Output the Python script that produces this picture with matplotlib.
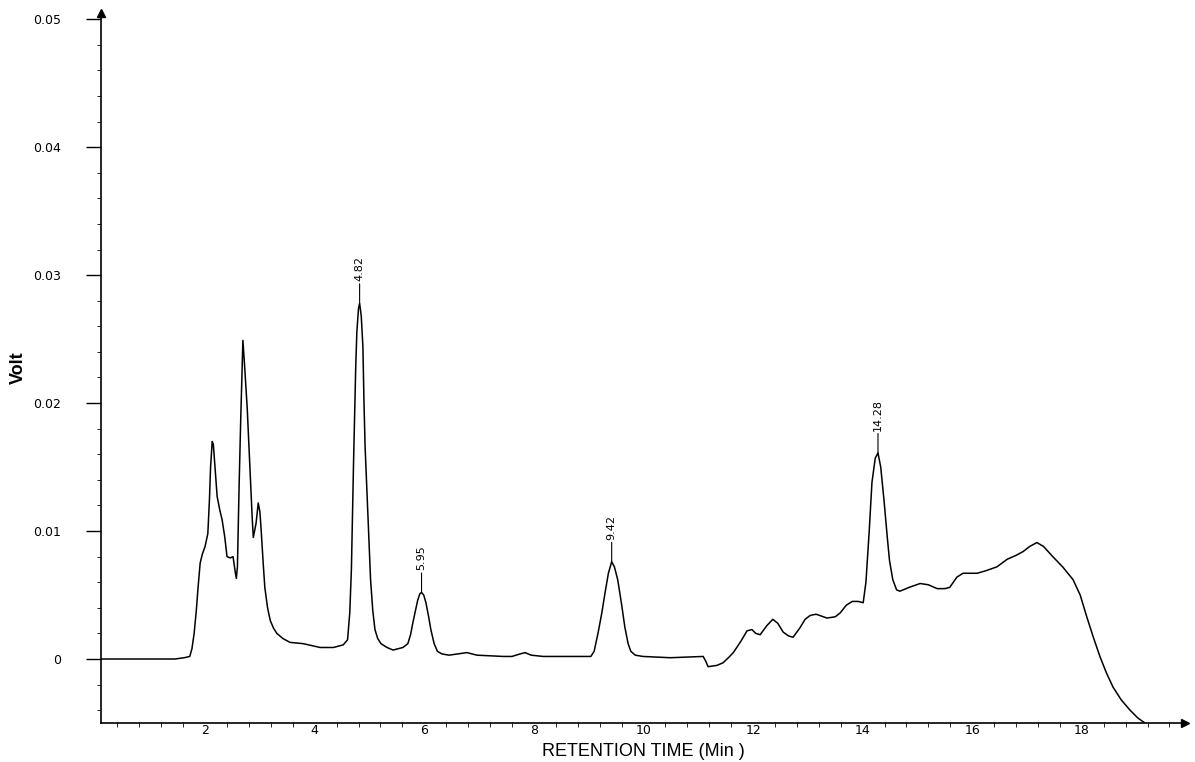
import numpy as np
import matplotlib.pyplot as plt
from matplotlib.ticker import MultipleLocator

# chromatogram trace as (retention time in min, detector signal in V)
trace = [
    (0.10, 0.0), (1.00, 0.0), (1.45, 0.0), (1.62, 0.0001), (1.72, 0.0002),
    (1.76, 0.0008), (1.80, 0.0020), (1.84, 0.0038), (1.87, 0.0055),
    (1.91, 0.0075), (1.95, 0.0082), (2.00, 0.0088), (2.05, 0.0098),
    (2.08, 0.0125), (2.10, 0.0150), (2.13, 0.0170), (2.15, 0.0168),
    (2.18, 0.0150), (2.22, 0.0127), (2.27, 0.0116), (2.31, 0.0109),
    (2.36, 0.0095), (2.40, 0.0080), (2.46, 0.0079), (2.51, 0.0080),
    (2.55, 0.0068), (2.57, 0.0063), (2.59, 0.0072), (2.62, 0.0134),
    (2.65, 0.0187), (2.69, 0.0249), (2.72, 0.0230), (2.77, 0.0195),
    (2.82, 0.0148), (2.86, 0.0110), (2.88, 0.0095), (2.93, 0.0106),
    (2.97, 0.0122), (3.00, 0.0115), (3.02, 0.0103), (3.06, 0.0075),
    (3.09, 0.0056), (3.14, 0.0040), (3.19, 0.0030), (3.25, 0.0024),
    (3.31, 0.0020), (3.42, 0.0016), (3.55, 0.0013), (3.79, 0.0012),
    (4.10, 0.0009), (4.34, 0.0009), (4.52, 0.0011), (4.60, 0.0015),
    (4.64, 0.0036), (4.67, 0.0070), (4.69, 0.0114), (4.71, 0.0155),
    (4.73, 0.0192), (4.75, 0.0230), (4.77, 0.0256), (4.80, 0.0274),
    (4.82, 0.0278), (4.85, 0.0268), (4.88, 0.0244), (4.90, 0.0200),
    (4.92, 0.0166), (4.95, 0.0135), (4.97, 0.0114), (5.00, 0.0085),
    (5.02, 0.0062), (5.06, 0.0038), (5.10, 0.0023), (5.15, 0.0016),
    (5.21, 0.0012), (5.32, 0.0009), (5.43, 0.0007), (5.61, 0.0009),
    (5.70, 0.0012), (5.75, 0.0019), (5.79, 0.0028), (5.84, 0.0038),
    (5.88, 0.0046), (5.92, 0.0051), (5.95, 0.0052), (5.99, 0.0050),
    (6.03, 0.0044), (6.08, 0.0033), (6.12, 0.0023), (6.18, 0.0012),
    (6.24, 0.0006), (6.32, 0.0004), (6.45, 0.0003), (6.78, 0.0005),
    (6.96, 0.0003), (7.44, 0.0002), (7.60, 0.0002), (7.75, 0.0004),
    (7.84, 0.0005), (7.95, 0.0003), (8.17, 0.0002), (8.66, 0.0002),
    (9.04, 0.0002), (9.10, 0.0006), (9.17, 0.0020), (9.24, 0.0036),
    (9.30, 0.0052), (9.36, 0.0067), (9.42, 0.0076), (9.47, 0.0072),
    (9.53, 0.0062), (9.60, 0.0043), (9.66, 0.0025), (9.72, 0.0012),
    (9.77, 0.0006), (9.85, 0.0003), (9.99, 0.0002), (10.49, 0.0001),
    (11.09, 0.0002), (11.14, -0.0002), (11.18, -0.0006), (11.34, -0.0005),
    (11.45, -0.0003), (11.55, 0.0001), (11.64, 0.0005), (11.78, 0.0014),
    (11.89, 0.0022), (11.98, 0.0023), (12.05, 0.0020), (12.13, 0.0019),
    (12.25, 0.0026), (12.36, 0.0031), (12.45, 0.0028), (12.55, 0.0021),
    (12.65, 0.0018), (12.73, 0.0017), (12.85, 0.0024), (12.95, 0.0031),
    (13.04, 0.0034), (13.15, 0.0035), (13.35, 0.0032), (13.50, 0.0033),
    (13.59, 0.0036), (13.70, 0.0042), (13.81, 0.0045), (13.92, 0.0045),
    (14.01, 0.0044), (14.06, 0.0060), (14.12, 0.0100), (14.17, 0.0138),
    (14.23, 0.0157), (14.28, 0.0161), (14.33, 0.0150), (14.39, 0.0124),
    (14.45, 0.0095), (14.49, 0.0077), (14.55, 0.0062), (14.62, 0.0054),
    (14.68, 0.0053), (14.85, 0.0056), (15.05, 0.0059), (15.20, 0.0058),
    (15.36, 0.0055), (15.50, 0.0055), (15.59, 0.0056), (15.72, 0.0064),
    (15.83, 0.0067), (16.09, 0.0067), (16.25, 0.0069), (16.45, 0.0072),
    (16.64, 0.0078), (16.80, 0.0081), (16.93, 0.0084), (17.05, 0.0088),
    (17.18, 0.0091), (17.30, 0.0088), (17.47, 0.0080), (17.65, 0.0072),
    (17.84, 0.0062), (17.97, 0.0050), (18.09, 0.0033), (18.21, 0.0017),
    (18.33, 0.0002), (18.45, -0.0011), (18.57, -0.0022), (18.72, -0.0032),
    (18.88, -0.0040), (19.02, -0.0046), (19.15, -0.0050),
]

# integrated peak retention times
peak_labels = ["4.82", "5.95", "9.42", "14.28"]

x_ticks = [2, 4, 6, 8, 10, 12, 14, 16, 18]
y_ticks = [0, 0.01, 0.02, 0.03, 0.04, 0.05]
y_ticklabels = ["0", "0.01", "0.02", "0.03", "0.04", "0.05"]

fig = plt.figure(figsize=(11.95, 7.62), dpi=100)
ax = fig.add_axes([0.0845, 0.0512, 0.907, 0.932])

t = np.array([p[0] for p in trace])
v = np.array([p[1] for p in trace])
ax.plot(t, v, color="black", lw=1.1)

for lab in peak_labels:
    x = float(lab)
    y = np.interp(x, t, v)
    ax.annotate(lab, xy=(x, y), xytext=(0, 16), textcoords="offset points",
                rotation=90, ha="center", va="bottom", fontsize=8,
                arrowprops=dict(arrowstyle="-", lw=0.8, color="black",
                                shrinkA=0, shrinkB=0))

ax.set_xlim(0.1, 19.88)
ax.set_ylim(-0.005, 0.0505)

for side in ["top", "right"]:
    ax.spines[side].set_visible(False)
for side in ["left", "bottom"]:
    ax.spines[side].set_linewidth(1.2)

# arrow heads on both axes
ax.plot(1, -0.005, ">k", ms=6, transform=ax.get_yaxis_transform(), clip_on=False)
ax.plot(0.1, 1, "^k", ms=6, transform=ax.get_xaxis_transform(), clip_on=False)

ax.set_xticks(x_ticks)
ax.set_xticklabels([str(x) for x in x_ticks])
ax.xaxis.set_minor_locator(MultipleLocator(0.4))
ax.tick_params(axis="x", which="major", length=0, pad=1, labelsize=9)
ax.tick_params(axis="x", which="minor", length=3, direction="out")

ax.set_yticks(y_ticks)
ax.set_yticklabels(y_ticklabels)
ax.yaxis.set_minor_locator(MultipleLocator(0.002))
ax.tick_params(axis="y", which="major", length=11, width=1.0, pad=18, labelsize=9)
ax.tick_params(axis="y", which="minor", length=3, direction="out")

ax.set_xlabel("RETENTION TIME (Min )", fontsize=13, family="Liberation Sans",
              labelpad=4)
ax.set_ylabel("Volt", fontsize=13, family="Liberation Sans", fontweight="bold",
              labelpad=4)

fig.savefig("out.png", dpi=100)
